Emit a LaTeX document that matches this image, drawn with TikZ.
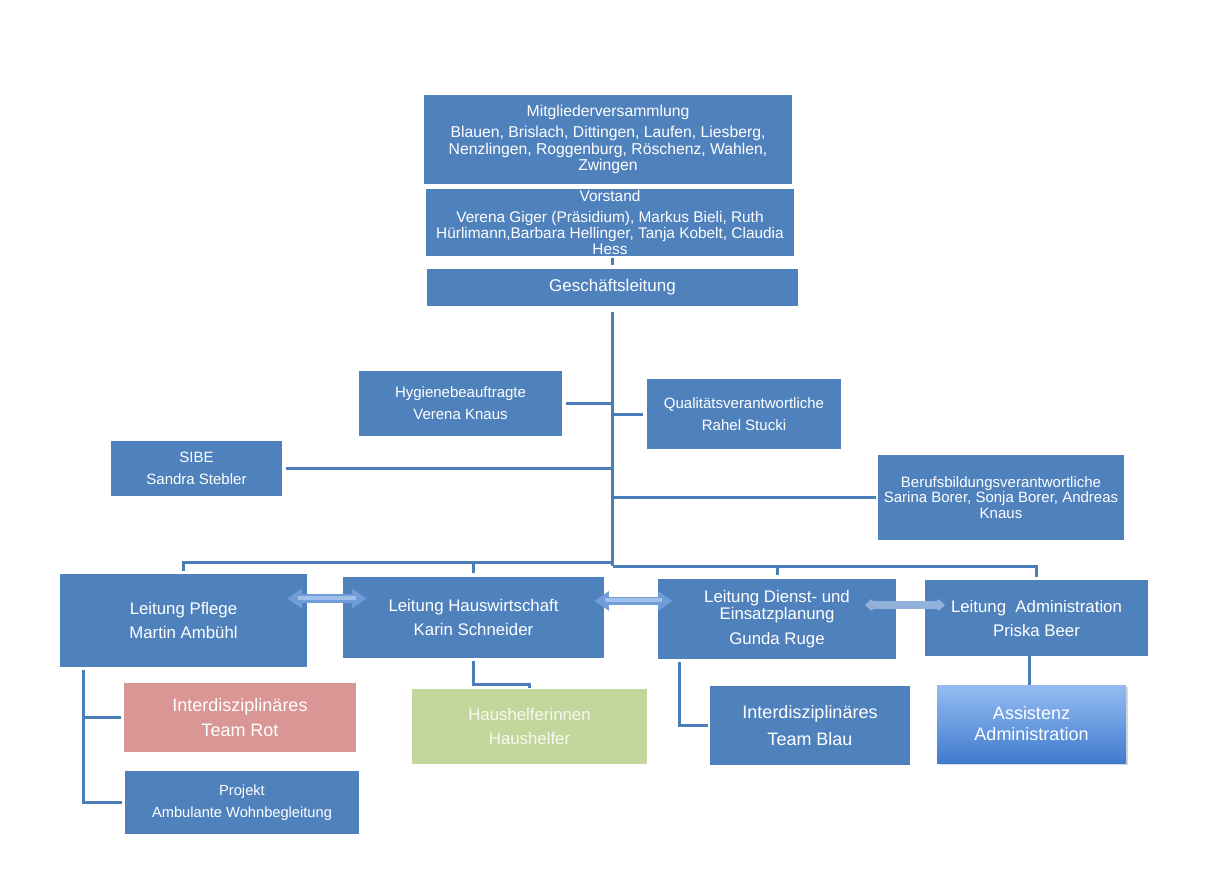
\documentclass[tikz,border=0pt]{standalone}
\usepackage{fontspec}
\setmainfont{Liberation Sans}
\usetikzlibrary{calc,arrows.meta,shadows}
\definecolor{cBlue}{RGB}{79,129,189}
\definecolor{cLine}{RGB}{74,126,187}
\definecolor{cRed}{RGB}{217,150,148}
\definecolor{cGreen}{RGB}{195,214,155}
\definecolor{cGreenText}{RGB}{246,249,240}
\definecolor{cArrow}{RGB}{112,157,216}
\definecolor{cArrowHi}{RGB}{160,192,236}
\definecolor{cArrowPale}{RGB}{146,178,220}
\definecolor{cAsTop}{RGB}{148,188,242}
\definecolor{cAsBot}{RGB}{64,124,206}
\tikzset{
  bx/.style 2 args={minimum width=#1*0.75pt, minimum height=#2*0.75pt},
  orgbox/.style={fill=cBlue, text=white, inner sep=0pt, align=center},
  fsmall/.style={font=\fontsize{11.25pt}{16.5pt}\selectfont},
  flead/.style={font=\fontsize{12.6pt}{18pt}\selectfont},
  conn/.style={draw=cLine, line width=2.25pt},
  dblarrow/.style={draw=cArrow, line width=6.5pt,
    {Triangle[length=11pt,width=14pt]}-{Triangle[length=11pt,width=14pt]}},
  dblhi/.style={draw=cArrowHi, line width=3pt, shorten <=8pt, shorten >=8pt},
  palearrow/.style={draw=cArrowPale, line width=6pt,
    {Triangle[round,length=6pt,width=10pt]}-{Triangle[round,length=6pt,width=10pt]}}
}
\begin{document}
\begin{tikzpicture}[x=0.75pt,y=-0.75pt]
\useasboundingbox[fill=white] (0,0) rectangle (1221,869);

% top
\node[orgbox, bx={368}{89}, font=\fontsize{11.8pt}{12.4pt}\selectfont] (mv) at (608,139.5)
  {Mitgliederversammlung\\[3.35pt]Blauen, Brislach, Dittingen, Laufen, Liesberg,\\Nenzlingen, Roggenburg, Röschenz, Wahlen,\\Zwingen};
\node[orgbox, bx={368}{67}, font=\fontsize{11.55pt}{12pt}\selectfont] (vs) at (610,222.5)
  {Vorstand\\[3.75pt]Verena Giger (Präsidium), Markus Bieli, Ruth\\Hürlimann,Barbara Hellinger, Tanja Kobelt, Claudia\\Hess};
\node[orgbox, bx={371}{37}, font=\fontsize{12.75pt}{15pt}\selectfont] (gl) at (612.5,287.5) {Geschäftsleitung};

% staff
\node[orgbox, bx={203}{65}, fsmall] (hyg) at (460.5,403.5) {Hygienebeauftragte\\Verena Knaus};
\node[orgbox, bx={194}{70}, fsmall] (qual) at (744,414) {Qualitätsverantwortliche\\Rahel Stucki};
\node[orgbox, bx={171}{55}, fsmall] (sibe) at (196.5,468.5) {SIBE\\Sandra Stebler};
\node[orgbox, bx={246}{85}, font=\fontsize{11.25pt}{11.6pt}\selectfont] (beruf) at (1001,497.5)
  {Berufsbildungsverantwortliche\\Sarina Borer, Sonja Borer, Andreas\\Knaus};

% leads
\node[orgbox, bx={247}{93}, flead] (pflege) at (183.5,620.5) {Leitung Pflege\\Martin Ambühl};
\node[orgbox, bx={261}{81}, flead] (haus) at (473.5,617.5) {Leitung Hauswirtschaft\\Karin Schneider};
\node[orgbox, bx={238}{80}, font=\fontsize{12.6pt}{18.75pt}\selectfont] (dienst) at (777,619)
  {Leitung Dienst- und\\[-6pt]Einsatzplanung\\Gunda Ruge};
\node[orgbox, bx={223}{76}, flead] (admin) at (1036.5,618) {Leitung\ \ Administration\\Priska Beer};

% teams
\node[orgbox, fill=cRed, bx={232}{69}, font=\fontsize{13.5pt}{18.75pt}\selectfont] (rot) at (240,717.5)
  {Interdisziplinäres\\Team Rot};
\node[orgbox, bx={234}{63}, font=\fontsize{11pt}{16.5pt}\selectfont] (proj) at (242,802.5)
  {Projekt\\Ambulante Wohnbegleitung};
\node[orgbox, fill=cGreen, text=cGreenText, bx={235}{75}, flead] (hh) at (529.5,726.5)
  {Haushelferinnen\\Haushelfer};
\node[orgbox, bx={200}{79}, font=\fontsize{13.5pt}{20.25pt}\selectfont] (blau) at (810,725.5)
  {Interdisziplinäres\\Team Blau};
\node[orgbox, fill=none, top color=cAsTop, bottom color=cAsBot, bx={189}{78},
  drop shadow={opacity=0.3, shadow xshift=1.2pt, shadow yshift=-1.5pt},
  font=\fontsize{13.5pt}{15.75pt}\selectfont] (assist) at (1031.5,724)
  {Assistenz\\Administration};

% connectors top
\draw[conn, line width=1.6pt] ($(gl.north)+(0,-4)$) -- ($(gl.north)+(0,-11)$);
\coordinate (busR) at (612.5,566);
\coordinate (busL) at (612.5,562);
\draw[conn] ($(gl.south)+(0,6)$) -- (busR);
\draw[conn, shorten <=3pt] (hyg.east) -- (hyg.east -| busR);
\draw[conn, shorten <=3pt] (qual.west) -- (qual.west -| busR);
\draw[conn, shorten <=3pt] (sibe.east) -- (sibe.east -| busR);
\draw[conn, shorten <=1.5pt] (beruf.west) -- (beruf.west -| busR);

% bus
\draw[conn] ($(pflege.north)+(0,-3)$) |- (busL);
\draw[conn] ($(haus.north)+(0,-4)$) -- (haus.north |- busL);
\draw[conn] ($(admin.north)+(0,-3)$) |- (busR);
\draw[conn] ($(dienst.north)+(0,-4)$) -- (dienst.north |- busR);

% lower connectors
\coordinate (pv) at ($(pflege.south west)+(24,3)$);
\draw[conn] (pv) |- ($(proj.west)+(-3,0)$);
\draw[conn] ($(rot.west)+(-3,0)$) -- (rot.west -| pv);
\draw[conn] ($(haus.south)+(0,3)$) -- ++(0,23) -| ($(hh.north)+(0,-1)$);
\draw[conn] ($(dienst.south west)+(22,3)$) |- ($(blau.west)+(-2,0)$);
\draw[conn] ($(admin.south)+(-7.5,0)$) -- ($(assist.north)+(-2.5,0)$);

% double arrows
\draw[dblarrow] ($(pflege.east)+(-20,-22)$) -- ($(haus.west)+(24,-19)$);
\draw[dblhi] ($(pflege.east)+(-20,-23)$) -- ($(haus.west)+(24,-20)$);
\draw[dblarrow] ($(haus.east)+(-10,-16.5)$) -- ($(dienst.west)+(15,-18)$);
\draw[dblhi] ($(haus.east)+(-10,-17.5)$) -- ($(dienst.west)+(15,-19)$);
\draw[palearrow] ($(dienst.east)+(-31,-14)$) -- ($(admin.west)+(20,-13)$);
\end{tikzpicture}
\end{document}
